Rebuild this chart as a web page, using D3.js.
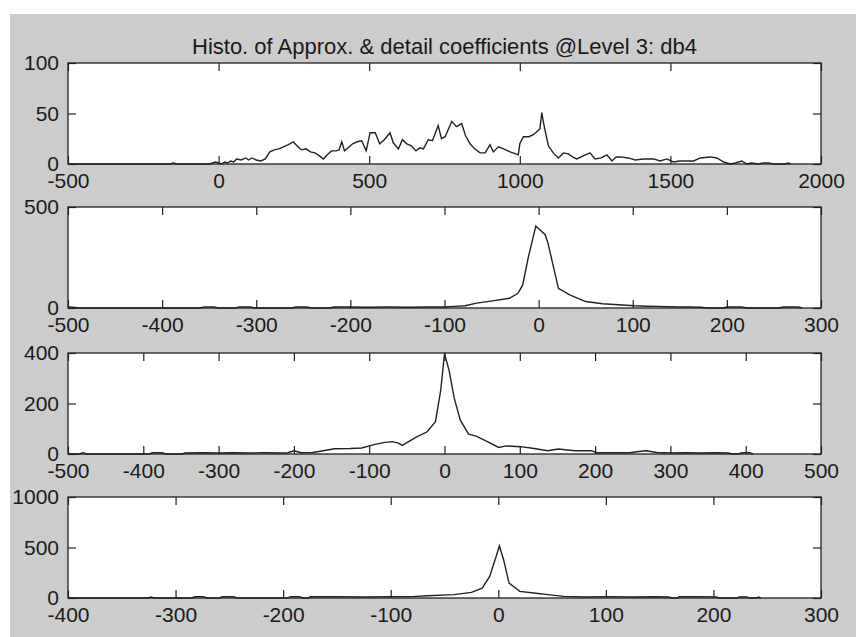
<!DOCTYPE html>
<html>
<head>
<meta charset="utf-8">
<script src="https://cdn.jsdelivr.net/npm/d3@7"></script>
<style>
  body { margin: 0; background: #fff; }
  svg text { font-family: "Liberation Sans", Arial, sans-serif; fill: #1a1a1a; }
</style>
</head>
<body>
<div id="chart"></div>
<script>
// histogram of approximation coefficients (A3)
const a3Bins = [-500,-160,-150,-140,-30,-20,-10,0,10,20,30,40,50,60,75,90,100,110,125,140,155,170,185,200,215,230,248,260,275,290,305,320,335,348,360,375,390,400,409,418,430,445,460,475,490,503,520,535,550,569,580,597,610,625,640,655,668,680,696,710,729,740,752,774,790,807,820,835,850,868,885,901,912,929,946,968,995,1000,1012,1030,1045,1060,1067,1073,1078,1084,1095,1111,1128,1145,1161,1175,1189,1211,1233,1250,1270,1289,1306,1320,1334,1360,1383,1411,1430,1444,1466,1488,1510,1530,1544,1577,1599,1632,1654,1677,1699,1715,1737,1754,1770,1790,1810,1826,1840,1880,1890,1900];
const a3Counts = [0,0,1,0,0,1,2,1,0,2,1,3,2,5,4,6,4,6,4,3,5,12,14,15,17,19,22,18,14,15,12,11,8,5,9,13,13,14,22,13,16,20,22,23,13,31,31,20,24,31,21,15,24,20,18,13,16,15,24,23,38,25,27,42,37,40,28,20,15,11,11,19,12,17,15,12,9,20,27,27,29,33,35,51,42,33,18,11,6,11,10,7,5,8,11,5,6,9,3,7,7,6,4,5,5,5,3,5,2,3,3,3,6,7,6,2,0,1,3,0,1,0,1,1,0,0,1,0];

// detail coefficients D3
const d3Bins = [-500,-495,-488,-360,-355,-345,-340,-322,-318,-306,-302,-262,-258,-246,-242,-222,-218,-200,-180,-160,-140,-120,-100,-90,-78,-66,-49,-31,-22,-17,-11,-3,7,10,21,33,50,68,85,102,115,126,137,149,160,172,180,196,200,215,222,256,259,276,280];
const d3Counts = [5,4,0,0,5,5,0,0,5,5,0,0,5,5,0,0,5,5,4,5,4,5,5,8,11,24,35,48,73,113,250,406,363,320,97,65,32,21,16,11,9,8,6,5,5,4,0,0,5,5,0,0,5,5,0];

// detail coefficients D2
const d2Bins = [-500,-485,-480,-475,-392,-388,-375,-370,-348,-345,-320,-300,-280,-260,-240,-220,-208,-200,-190,-175,-161,-146,-125,-110,-95,-81,-70,-62,-56,-37,-23,-12,-5,0,6,13,21,32,42,57,72,82,101,119,137,151,173,195,202,246,258,268,282,300,320,340,360,377,382,390,395,405,410];
const d2Counts = [0,0,5,0,0,5,5,0,0,4,5,4,5,4,5,4,5,13,5,6,13,21,22,24,36,45,49,44,34,68,88,128,253,397,332,220,134,79,71,49,26,32,29,22,13,20,13,13,5,5,10,13,6,4,5,4,5,4,0,0,5,5,0];

// detail coefficients D1
const d1Bins = [-400,-326,-323,-320,-285,-282,-274,-271,-259,-257,-246,-243,-196,-193,-185,-182,-176,-175,-150,-125,-100,-80,-66,-41,-25,-15,-8,-2,1,5,10,20,33,46,61,80,100,125,145,158,162,167,168,185,203,205,222,224,231,233,240,242,244];
const d1Counts = [0,0,10,0,0,12,12,0,0,12,12,0,0,12,12,0,0,12,12,10,12,14,23,33,56,98,213,410,515,377,148,66,49,33,16,10,12,10,12,10,0,0,12,12,10,0,0,10,10,0,0,10,0];

const titleText = "Histo. of Approx. & detail coefficients @Level 3: db4";

const panels = [
  {bins: a3Bins, counts: a3Counts, xDomain: [-500, 2000], xTicks: [-500, 0, 500, 1000, 1500, 2000], yDomain: [0, 100], yTicks: [0, 50, 100]},
  {bins: d3Bins, counts: d3Counts, xDomain: [-500, 300], xTicks: d3.range(-500, 301, 100), yDomain: [0, 500], yTicks: [0, 500]},
  {bins: d2Bins, counts: d2Counts, xDomain: [-500, 500], xTicks: d3.range(-500, 501, 100), yDomain: [0, 400], yTicks: [0, 200, 400]},
  {bins: d1Bins, counts: d1Counts, xDomain: [-400, 300], xTicks: d3.range(-400, 301, 100), yDomain: [0, 1000], yTicks: [0, 500, 1000]}
];

const W = 856, H = 637;
const left = 68, right = 821, plotH = 101;
const tops = [63, 207, 353, 497];

const svg = d3.select("#chart").append("svg")
  .attr("width", W)
  .attr("height", H);

// grey figure background
svg.append("rect")
  .attr("x", 10).attr("y", 14)
  .attr("width", W - 10).attr("height", H - 14)
  .attr("fill", "#cccccc");

svg.append("text")
  .attr("x", (left + right) / 2)
  .attr("y", 54)
  .attr("text-anchor", "middle")
  .style("font-size", "22px")
  .text(titleText);

// plain hyphen minus, like the original figure
const fmt = d => String(d);

panels.forEach((p, i) => {
  const g = svg.append("g").attr("transform", `translate(0,${tops[i]})`);

  const x = d3.scaleLinear().domain(p.xDomain).range([left, right]);
  const y = d3.scaleLinear().domain(p.yDomain).range([plotH, 0]);

  g.append("rect")
    .attr("x", left).attr("y", 0)
    .attr("width", right - left).attr("height", plotH)
    .attr("fill", "#fff");

  const line = d3.line()
    .x((d, j) => x(p.bins[j]))
    .y(d => y(d));

  g.append("path")
    .datum(p.counts)
    .attr("fill", "none")
    .attr("stroke", "#222")
    .attr("stroke-width", 1.4)
    .attr("d", line);

  // inward ticks on all four sides, labels only bottom and left
  const bottom = g.append("g")
    .attr("transform", `translate(0,${plotH})`)
    .call(d3.axisBottom(x).tickValues(p.xTicks).tickSizeInner(-8).tickSizeOuter(0).tickPadding(9).tickFormat(fmt));
  const top = g.append("g")
    .call(d3.axisTop(x).tickValues(p.xTicks).tickSizeInner(-8).tickSizeOuter(0).tickFormat(""));
  const leftAx = g.append("g")
    .attr("transform", `translate(${left},0)`)
    .call(d3.axisLeft(y).tickValues(p.yTicks).tickSizeInner(-8).tickSizeOuter(0).tickPadding(9).tickFormat(fmt));
  const rightAx = g.append("g")
    .attr("transform", `translate(${right},0)`)
    .call(d3.axisRight(y).tickValues(p.yTicks).tickSizeInner(-8).tickSizeOuter(0).tickFormat(""));

  [bottom, top, leftAx, rightAx].forEach(a => {
    a.select(".domain").remove();
    a.selectAll("line").attr("stroke", "#222").attr("stroke-width", 1.2);
    a.selectAll("text").style("font-size", "21px").attr("fill", "#1a1a1a")
      .style("font-family", "'Liberation Sans', Arial, sans-serif");
  });

  g.append("rect")
    .attr("x", left).attr("y", 0)
    .attr("width", right - left).attr("height", plotH)
    .attr("fill", "none")
    .attr("stroke", "#222")
    .attr("stroke-width", 1.3);
});
</script>
</body>
</html>
